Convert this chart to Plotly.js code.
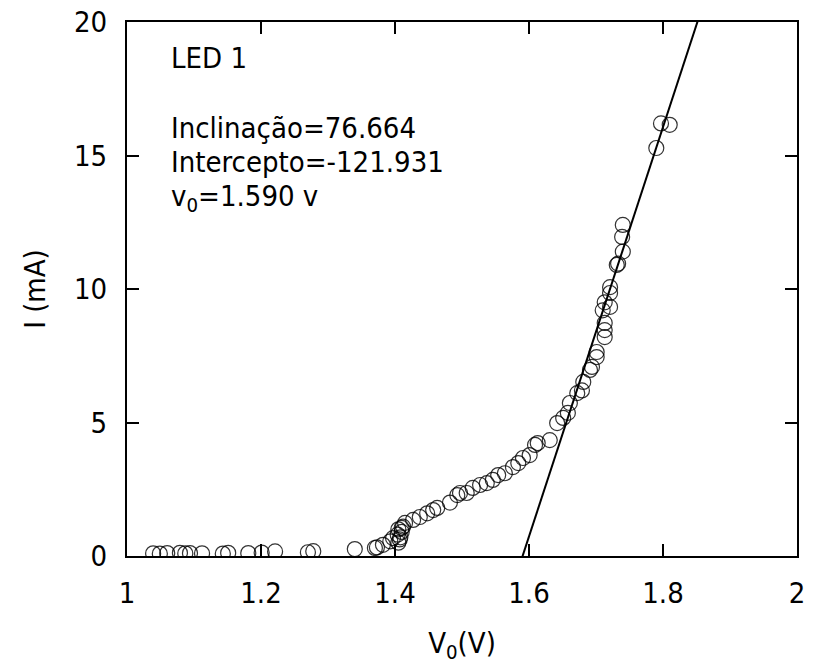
<!DOCTYPE html>
<html>
<head>
<meta charset="utf-8">
<script src="https://cdn.plot.ly/plotly-3.0.1.min.js"></script>
<style>html,body{margin:0;padding:0;background:#fff;}#chart{width:813px;height:666px;}</style>
</head>
<body>
<div id="chart"></div>
<script>
const voltage = [1.039,1.049,1.060,1.079,1.087,1.094,1.112,1.143,1.151,1.181,1.201,1.221,1.270,1.278,1.340,1.370,
  1.373,1.382,1.393,1.397,1.404,1.405,1.408,1.410,1.410,1.405,1.412,1.407,1.415,1.427,1.437,1.448,1.457,1.463,
  1.482,1.493,1.497,1.507,1.516,1.527,1.537,1.546,1.554,1.564,1.576,1.584,1.591,1.601,1.609,1.613,1.631,
  1.642,1.651,1.658,1.661,1.672,1.679,1.681,1.691,1.694,1.701,1.701,1.713,1.713,1.713,1.710,1.721,1.713,
  1.721,1.721,1.731,1.733,1.740,1.739,1.740,1.790,1.797,1.810];
const current = [0.10,0.09,0.11,0.12,0.10,0.11,0.10,0.09,0.12,0.11,0.13,0.17,0.14,0.18,0.26,0.30,
  0.32,0.42,0.55,0.67,0.80,0.50,0.70,0.90,1.05,1.00,1.10,0.62,1.24,1.35,1.46,1.60,1.72,1.80,
  2.00,2.28,2.36,2.36,2.55,2.66,2.73,2.85,3.03,3.10,3.33,3.48,3.67,3.78,4.16,4.23,4.34,
  4.98,5.17,5.36,5.73,6.10,6.20,6.52,6.97,7.08,7.45,7.64,8.20,8.46,8.73,9.20,9.33,9.50,
  9.85,10.07,10.90,10.95,11.40,11.95,12.40,15.28,16.20,16.15];
const fitSlope = 76.664;
const fitIntercept = -121.931;
const fitV0 = 1.590;
const xTicks = [1, 1.2, 1.4, 1.6, 1.8, 2];
const yTicks = [0, 5, 10, 15, 20];
const labelLED = "LED 1";
const labelSlope = "Inclinação=76.664";
const labelIntercept = "Intercepto=-121.931";
const labelV0 = "v<sub>0</sub>=1.590 v";

const fitX = [1.55, 1.9];
const fitY = fitX.map(v => fitSlope * v + fitIntercept);

const FONT = '"DejaVu Sans Condensed", "DejaVu Sans", sans-serif';
const fs = 29;

const traces = [
  {x: voltage, y: current, type: 'scatter', mode: 'markers',
   marker: {symbol: 'circle-open', size: 15, color: 'rgba(0,0,0,0.8)', line: {width: 1.2, color: 'rgba(0,0,0,0.8)'}},
   hoverinfo: 'x+y', showlegend: false},
  {x: fitX, y: fitY, type: 'scatter', mode: 'lines',
   line: {color: '#000', width: 2}, showlegend: false}
];

const axisCommon = {
  showgrid: false, zeroline: false, showline: true, linecolor: '#000', linewidth: 2,
  mirror: 'allticks', ticks: 'inside', ticklen: 12, tickwidth: 2, tickcolor: '#000',
  tickfont: {family: FONT, size: fs, color: '#000'}
};

const layout = {
  width: 813, height: 666,
  margin: {l: 127, r: 16, t: 22, b: 110},
  paper_bgcolor: '#fff', plot_bgcolor: '#fff',
  font: {family: FONT, size: fs, color: '#000'},
  xaxis: Object.assign({}, axisCommon, {
    range: [1, 2], tickvals: xTicks, ticktext: xTicks.map(String), ticklabelstandoff: 10,
    title: {text: 'V<sub>0</sub>(V)', font: {family: FONT, size: fs, color: '#000'}, standoff: 24}
  }),
  yaxis: Object.assign({}, axisCommon, {
    range: [0, 20], tickvals: yTicks, ticktext: yTicks.map(String), ticklabelstandoff: 12,
    title: {text: 'I (mA)', font: {family: FONT, size: fs, color: '#000'}, standoff: 20}
  }),
  annotations: [
    {text: labelLED, xref: 'paper', yref: 'paper', x: 0.062, y: 0.933, xanchor: 'left', yanchor: 'middle', showarrow: false, font: {family: FONT, size: fs, color: '#000'}},
    {text: labelSlope, xref: 'paper', yref: 'paper', x: 0.062, y: 0.802, xanchor: 'left', yanchor: 'middle', showarrow: false, font: {family: FONT, size: fs, color: '#000'}},
    {text: labelIntercept, xref: 'paper', yref: 'paper', x: 0.062, y: 0.737, xanchor: 'left', yanchor: 'middle', showarrow: false, font: {family: FONT, size: fs, color: '#000'}},
    {text: labelV0, xref: 'paper', yref: 'paper', x: 0.062, y: 0.670, xanchor: 'left', yanchor: 'middle', showarrow: false, font: {family: FONT, size: fs, color: '#000'}}
  ]
};

Plotly.newPlot('chart', traces, layout, {displayModeBar: false, staticPlot: true});
</script>
</body>
</html>
